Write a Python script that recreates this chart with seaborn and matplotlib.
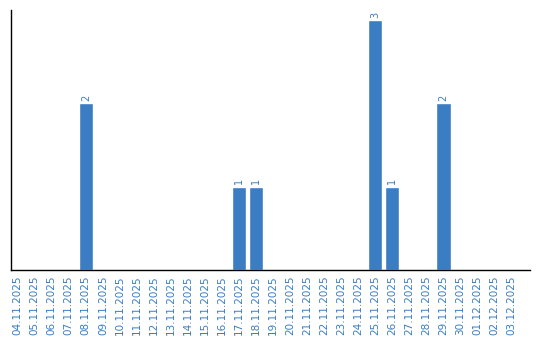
import matplotlib
matplotlib.use("Agg")
import matplotlib.pyplot as plt
import seaborn as sns
import pandas as pd

dates = ["04.11.2025", "05.11.2025", "06.11.2025", "07.11.2025", "08.11.2025",
         "09.11.2025", "10.11.2025", "11.11.2025", "12.11.2025", "13.11.2025",
         "14.11.2025", "15.11.2025", "16.11.2025", "17.11.2025", "18.11.2025",
         "19.11.2025", "20.11.2025", "21.11.2025", "22.11.2025", "23.11.2025",
         "24.11.2025", "25.11.2025", "26.11.2025", "27.11.2025", "28.11.2025",
         "29.11.2025", "30.11.2025", "01.12.2025", "02.12.2025", "03.12.2025"]
counts = [0, 0, 0, 0, 2, 0, 0, 0, 0, 0, 0, 0, 0, 1, 1,
          0, 0, 0, 0, 0, 0, 3, 1, 0, 0, 2, 0, 0, 0, 0]

color = "#3a7dc2"
sns.set_style("white")
plt.rcParams['font.family'] = ['DejaVu Sans']

df = pd.DataFrame({"date": dates, "count": counts})
fig = plt.figure(figsize=(5.4, 3.4), dpi=100)
ax = fig.add_axes([11/540, 70/340, (530-11)/540, 260/340])
sns.barplot(data=df, x="date", y="count", color=color, width=0.86,
            saturation=1, ax=ax)
for i, v in enumerate(counts):
    if v > 0:
        ax.text(i, v + 0.03, str(v), rotation=90, ha="center", va="bottom",
                fontsize=7, color=color)
ax.set_xlim(-0.4, 30.1)
ax.set_ylim(0, 3.12)
ax.set_xlabel("")
ax.set_ylabel("")
ax.set_yticks([])
ax.tick_params(axis="x", labelrotation=90, labelsize=7.5, labelcolor=color,
               length=0, pad=4)
for s in ["top", "right"]:
    ax.spines[s].set_visible(False)
for s in ["left", "bottom"]:
    ax.spines[s].set_color("black")
    ax.spines[s].set_linewidth(1)
fig.savefig("out.png", dpi=100)
